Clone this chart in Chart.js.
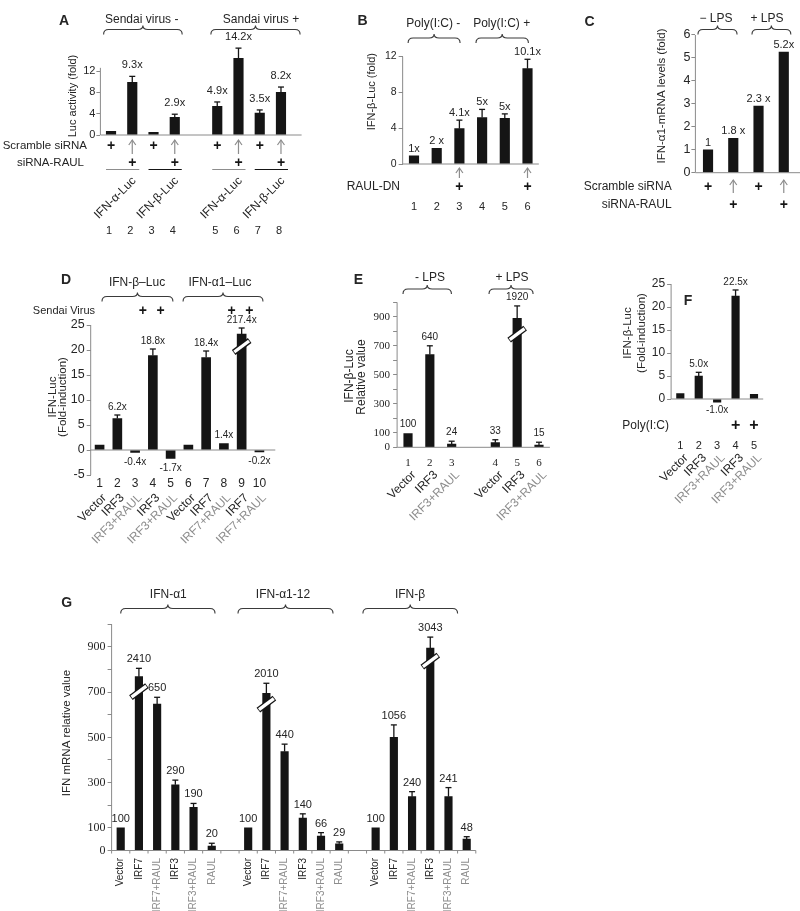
<!DOCTYPE html>
<html>
<head>
<meta charset="utf-8">
<title>RAUL / IFN reporter panels</title>
<script src="https://cdn.jsdelivr.net/npm/chart.js@4.4.1/dist/chart.umd.min.js"></script>
<style>
  html, body { margin: 0; padding: 0; background: #fff; }
  #page { position: relative; width: 800px; height: 911px; overflow: hidden; background: #fff; }
  #page canvas { position: absolute; left: 0; top: 0; }
</style>
</head>
<body>
<div id="page"></div>
<script>
// ---- A : Sendai virus, scramble vs RAUL siRNA ----
const aLanes = ['1', '2', '3', '4', '', '5', '6', '7', '8'];
const aValues = [0.7, 9.9, 0.5, 3.3, null, 5.4, 14.4, 4.1, 8.0];
const aErrors = [null, 11.0, null, 3.9, null, 6.2, 16.3, 4.7, 9.0];
const aFold = ['', '9.3x', '', '2.9x', '', '4.9x', '14.2x', '3.5x', '8.2x'];
const aScramble = ['+', '^', '+', '^', '', '+', '^', '+', '^'];
const aRaul = ['', '+', '', '+', '', '', '+', '', '+'];
const aPairs = [[0, 1], [2, 3], [5, 6], [7, 8]];
const aReporters = ['IFN-α-Luc', 'IFN-β-Luc', 'IFN-α-Luc', 'IFN-β-Luc'];
const aYTicks = [0, 4, 8, 12];

// ---- B : Poly(I:C), RAUL-DN ----
const bLanes = ['1', '2', '3', '4', '5', '6'];
const bValues = [0.9, 1.75, 3.95, 5.2, 5.1, 10.65];
const bErrors = [null, null, 4.9, 6.1, 5.6, 11.7];
const bFold = ['1x', '2 x', '4.1x', '5x', '5x', '10.1x'];
const bRaulDN = ['', '', '+', '', '', '+'];
const bYTicks = [0, 4, 8, 12];

// ---- C : LPS, IFN-a1 mRNA ----
const cLanes = ['1', '2', '3', '4'];
const cValues = [1.0, 1.5, 2.9, 5.25];
const cErrors = [null, null, null, null];
const cFold = ['1', '1.8 x', '2.3 x', '5.2x'];
const cScramble = ['+', '^', '+', '^'];
const cRaul = ['', '+', '', '+'];
const cYTicks = [0, 1, 2, 3, 4, 5, 6];

// ---- D : IFN-b / IFN-a1 luciferase ----
const dLanes = ['1', '2', '3', '4', '5', '6', '7', '8', '9', '10'];
const dNames = ['Vector', 'IRF3', 'IRF3+RAUL', 'IRF3', 'IRF3+RAUL', 'Vector', 'IRF7', 'IRF7+RAUL', 'IRF7', 'IRF7+RAUL'];
const dValues = [1.0, 6.3, -0.5, 18.9, -1.7, 1.0, 18.5, 1.3, 23.2, -0.4];
const dErrors = [null, 7.0, null, 20.2, null, null, 19.8, null, 24.4, null];
const dFold = ['', '6.2x', '-0.4x', '18.8x', '-1.7x', '', '18.4x', '1.4x', '217.4x', '-0.2x'];
const dSendai = ['', '', '', '+', '+', '', '', '', '+', '+'];
const dYTicks = [-5, 0, 5, 10, 15, 20, 25];

// ---- E : LPS, IFN-b-Luc relative value ----
const eLanes = ['1', '2', '3', '', '4', '5', '6'];
const eNames = ['Vector', 'IRF3', 'IRF3+RAUL', '', 'Vector', 'IRF3', 'IRF3+RAUL'];
const eValues = [95, 640, 22, null, 32, 890, 15];
const eErrors = [null, 700, 42, null, 52, 975, 35];
const eFold = ['100', '640', '24', '', '33', '1920', '15'];
const eYTicks = [0, 100, 200, 300, 400, 500, 600, 700, 800, 900, 1000];
const eYLabels = [0, 100, 300, 500, 700, 900];

// ---- F : Poly(I:C), IFN-b-Luc fold ----
const fLanes = ['1', '2', '3', '4', '5'];
const fNames = ['Vector', 'IRF3', 'IRF3+RAUL', 'IRF3', 'IRF3+RAUL'];
const fValues = [1.2, 5.0, -0.7, 22.4, 1.0];
const fErrors = [null, 5.8, null, 23.7, null];
const fFold = ['', '5.0x', '-1.0x', '22.5x', ''];
const fPoly = ['', '', '', '+', '+'];
const fYTicks = [0, 5, 10, 15, 20, 25];

// ---- G : IFN mRNA relative value ----
const gNames = ['Vector', 'IRF7', 'IRF7+RAUL', 'IRF3', 'IRF3+RAUL', 'RAUL', '',
                'Vector', 'IRF7', 'IRF7+RAUL', 'IRF3', 'IRF3+RAUL', 'RAUL', '',
                'Vector', 'IRF7', 'IRF7+RAUL', 'IRF3', 'IRF3+RAUL', 'RAUL'];
const gValues = [100, 768, 647, 290, 191, 20, null,
                 100, 695, 437, 143, 64, 30, null,
                 100, 500, 238, 894, 238, 50];
const gErrors = [null, 805, 677, 311, 208, 32, null,
                 null, 739, 470, 162, 79, 38, null,
                 null, 555, 260, 943, 278, 61];
const gFold = ['100', '2410', '650', '290', '190', '20', '',
               '100', '2010', '440', '140', '66', '29', '',
               '100', '1056', '240', '3043', '241', '48'];
const gGenes = ['IFN-α1', 'IFN-α1-12', 'IFN-β'];
const gYTicks = [0, 100, 200, 300, 400, 500, 600, 700, 800, 900, 1000];
const gYLabels = [0, 100, 300, 500, 700, 900];

const SANS = '"Liberation Sans", Arial, Helvetica, sans-serif';
const SERIF = '"Liberation Serif", "Times New Roman", serif';
const INK = '#151515', TXT = '#252525', GREY = '#8d8d8d', AXIS = '#8a8a8a';
const LETTER = 'bold 14px ' + SANS;
const f = (size, family) => size + 'px ' + (family || SANS);
const page = document.getElementById('page');

function seg(ctx, x1, y1, x2, y2) {
  ctx.beginPath(); ctx.moveTo(x1, y1); ctx.lineTo(x2, y2); ctx.stroke();
}

function write(ctx, s, x, y, font, align, color, rot) {
  ctx.save();
  ctx.translate(x, y);
  if (rot) ctx.rotate(rot);
  ctx.font = font; ctx.fillStyle = color || TXT;
  ctx.textAlign = align || 'center'; ctx.textBaseline = 'middle';
  ctx.fillText(s, 0, 0);
  ctx.restore();
}

function brace(ctx, x1, x2, y) {
  const h = 5, m = (x1 + x2) / 2;
  ctx.save();
  ctx.strokeStyle = '#3a3a3a'; ctx.lineWidth = 1.1;
  ctx.beginPath();
  ctx.moveTo(x1, y + h);
  ctx.quadraticCurveTo(x1, y, x1 + h, y);
  ctx.lineTo(m - h, y);
  ctx.quadraticCurveTo(m, y, m, y - 4);
  ctx.quadraticCurveTo(m, y, m + h, y);
  ctx.lineTo(x2 - h, y);
  ctx.quadraticCurveTo(x2, y, x2, y + h);
  ctx.stroke();
  ctx.restore();
}

function arrow(ctx, x, y1, y2) {
  ctx.save();
  ctx.strokeStyle = GREY; ctx.lineWidth = 1.2;
  seg(ctx, x, y1, x, y2);
  ctx.beginPath(); ctx.moveTo(x - 3.5, y1 + 5); ctx.lineTo(x, y1); ctx.lineTo(x + 3.5, y1 + 5); ctx.stroke();
  ctx.restore();
}

function plus(ctx, x, y) {
  write(ctx, '+', x, y, 'bold 14px ' + SANS, 'center', INK);
}

function slash(ctx, x, y) {
  ctx.save();
  ctx.lineCap = 'butt';
  ctx.strokeStyle = INK; ctx.lineWidth = 6;
  seg(ctx, x - 8, y + 6, x + 8, y - 6);
  ctx.strokeStyle = '#fff'; ctx.lineWidth = 3.4;
  seg(ctx, x - 7.4, y + 5.5, x + 7.4, y - 5.5);
  ctx.restore();
}

function slanted(ctx, names, X, dx, y, size) {
  names.forEach((s, i) => {
    if (!s) return;
    write(ctx, s, X(i) + dx, y, f(size), 'right', s.includes('RAUL') ? GREY : TXT, -Math.PI / 4);
  });
}

function panel(o) {
  const canvas = document.createElement('canvas');
  canvas.width = 800; canvas.height = 911;
  page.appendChild(canvas);
  const YW = 40;
  const marks = {
    id: 'marks',
    afterDraw(chart) {
      const ctx = chart.ctx, ca = chart.chartArea;
      const X = i => chart.scales.x.getPixelForValue(i);
      const Y = v => chart.scales.y.getPixelForValue(v);
      ctx.save();
      ctx.strokeStyle = AXIS; ctx.lineWidth = 1;
      seg(ctx, ca.left, Y(o.axisFrom), ca.left, Y(o.axisTo));
      seg(ctx, ca.left, Y(0), ca.right + (o.baseExt || 0), Y(0));
      ctx.strokeStyle = INK; ctx.lineWidth = 1.3;
      o.errors.forEach((e, i) => {
        if (e == null) return;
        const x = X(i);
        seg(ctx, x, Y(o.values[i]), x, Y(e));
        seg(ctx, x - 3, Y(e), x + 3, Y(e));
      });
      (o.breaks || []).forEach(b => slash(ctx, X(b.i), Y(b.v)));
      o.fold.forEach((s, i) => {
        if (!s) return;
        const v = o.values[i];
        const top = Math.max(v, o.errors[i] == null ? v : o.errors[i]);
        const y = v < 0 ? Y(v) + o.negGap : Y(top) - o.gap;
        write(ctx, s, X(i), y, o.foldFont);
      });
      o.extra(ctx, X, Y, ca);
      ctx.restore();
    }
  };
  return new Chart(canvas, {
    type: 'bar',
    data: { labels: o.lanes, datasets: [{ data: o.values, backgroundColor: INK, barThickness: o.barW }] },
    options: {
      responsive: false, animation: false, events: [],
      layout: { padding: { left: o.box[0] - YW, top: o.box[1], right: 800 - o.box[2], bottom: 911 - o.box[3] } },
      plugins: { legend: { display: false }, tooltip: { enabled: false } },
      scales: {
        x: { display: false, offset: true },
        y: {
          min: o.yMin, max: o.yMax,
          afterFit: s => { s.width = YW; },
          afterBuildTicks: s => { s.ticks = o.yTicks.map(v => ({ value: v })); },
          border: { display: false },
          grid: { drawOnChartArea: false, drawTicks: true, tickLength: 4, color: AXIS },
          ticks: {
            autoSkip: false, padding: o.tickPad, color: TXT, font: o.tickFont,
            callback: v => (o.yLabels || o.yTicks).includes(v) ? String(v) : ''
          }
        }
      }
    },
    plugins: [marks]
  });
}

// ---------- A ----------
panel({
  box: [100.4, 44.4, 291.6, 135], yMin: 0, yMax: 17, axisFrom: 0, axisTo: 12.6, baseExt: 10,
  lanes: aLanes, values: aValues, errors: aErrors, fold: aFold, yTicks: aYTicks,
  tickFont: { family: SANS, size: 11 }, tickPad: 1, barW: 9.5, gap: 11, negGap: 9, foldFont: f(11),
  extra(ctx, X) {
    write(ctx, 'A', 64, 21.5, LETTER);
    write(ctx, 'Sendai virus -', 141.7, 19.3, f(12));
    brace(ctx, X(-0.35), X(3.35), 29.5);
    write(ctx, 'Sandai virus +', 261, 19.3, f(12));
    brace(ctx, X(4.7), X(8.9), 29.5);
    write(ctx, 'Luc activity (fold)', 73.3, 96, f(11), 'center', TXT, -Math.PI / 2);
    write(ctx, 'Scramble siRNA', 87, 145.7, f(11.5), 'right');
    write(ctx, 'siRNA-RAUL', 84, 163.3, f(11.5), 'right');
    aScramble.forEach((m, i) => {
      if (m === '+') plus(ctx, X(i), 145.7);
      if (m === '^') arrow(ctx, X(i), 140, 154);
    });
    aRaul.forEach((m, i) => { if (m) plus(ctx, X(i), 163.3); });
    aPairs.forEach(([p, q], k) => {
      ctx.strokeStyle = k % 2 ? INK : GREY; ctx.lineWidth = 1.2;
      seg(ctx, X(p) - 5, 169.5, X(q) + 7, 169.5);
      write(ctx, aReporters[k], X(q) + 2, 179, f(12), 'right', TXT, -Math.PI / 4);
    });
    aLanes.forEach((s, i) => write(ctx, s, X(i) - 2, 230.7, f(11)));
  }
});

// ---------- B ----------
panel({
  box: [402.65, 47.65, 538.85, 164], yMin: 0, yMax: 13, axisFrom: 0, axisTo: 12, baseExt: 0,
  lanes: bLanes, values: bValues, errors: bErrors, fold: bFold, yTicks: bYTicks,
  tickFont: { family: SANS, size: 10.5 }, tickPad: 2, barW: 9.5, gap: 7, negGap: 9, foldFont: f(11),
  extra(ctx, X) {
    write(ctx, 'B', 362.5, 21.5, LETTER);
    write(ctx, 'Poly(I:C) -', 433.3, 24, f(12));
    brace(ctx, X(-0.26), X(2.03), 38);
    write(ctx, 'Poly(I:C) +', 501.7, 24, f(12));
    brace(ctx, X(2.73), X(5.04), 38);
    write(ctx, 'IFN-β-Luc (fold)', 372, 91.7, f(11), 'center', TXT, -Math.PI / 2);
    write(ctx, 'RAUL-DN', 400, 187, f(12), 'right');
    bRaulDN.forEach((m, i) => {
      if (!m) return;
      arrow(ctx, X(i), 168, 178);
      plus(ctx, X(i), 187);
    });
    bLanes.forEach((s, i) => write(ctx, s, X(i), 206.7, f(11)));
  }
});

// ---------- C ----------
panel({
  box: [695.4, 30.4, 796.4, 172.7], yMin: 0, yMax: 6.2, axisFrom: 0, axisTo: 6, baseExt: 4,
  lanes: cLanes, values: cValues, errors: cErrors, fold: cFold, yTicks: cYTicks,
  tickFont: { family: SANS, size: 12.5 }, tickPad: 1, barW: 9.5, gap: 7, negGap: 9, foldFont: f(11),
  extra(ctx, X) {
    write(ctx, 'C', 589.5, 21.7, LETTER);
    write(ctx, '− LPS', 716, 19, f(12));
    brace(ctx, X(-0.4), X(1.15), 29.5);
    write(ctx, '+ LPS', 767, 19, f(12));
    brace(ctx, X(1.74), X(3.28), 29.5);
    write(ctx, 'IFN-α1-mRNA levels (fold)', 661.7, 96, f(11.5), 'center', TXT, -Math.PI / 2);
    write(ctx, 'Scramble siRNA', 671.7, 186.7, f(12), 'right');
    write(ctx, 'siRNA-RAUL', 671.7, 205, f(12), 'right');
    cScramble.forEach((m, i) => {
      if (m === '+') plus(ctx, X(i), 186.7);
      if (m === '^') arrow(ctx, X(i), 180, 193);
    });
    cRaul.forEach((m, i) => { if (m) plus(ctx, X(i), 205); });
  }
});

// ---------- D ----------
panel({
  box: [90.7, 325, 268.3, 475], yMin: -5, yMax: 25, axisFrom: -5, axisTo: 25, baseExt: 7,
  lanes: dLanes, values: dValues, errors: dErrors, fold: dFold, yTicks: dYTicks,
  tickFont: { family: SANS, size: 12.5 }, tickPad: 2, barW: 9, gap: 8, negGap: 9.5, foldFont: f(10),
  breaks: [{ i: 8, v: 20.7 }],
  extra(ctx, X) {
    write(ctx, 'D', 66, 280, LETTER);
    write(ctx, 'IFN-β–Luc', 137, 283, f(12));
    brace(ctx, X(0.135), X(4.13), 296.5);
    write(ctx, 'IFN-α1–Luc', 220, 283, f(12));
    brace(ctx, X(4.7), X(9.2), 296.5);
    write(ctx, 'Sendai Virus', 95, 311, f(11), 'right');
    dSendai.forEach((m, i) => { if (m) plus(ctx, X(i) - 10, 311); });
    write(ctx, 'IFN-Luc', 53.3, 397, f(11.5), 'center', TXT, -Math.PI / 2);
    write(ctx, '(Fold-induction)', 63, 397, f(11.5), 'center', TXT, -Math.PI / 2);
    dLanes.forEach((s, i) => write(ctx, s, X(i), 484, f(12)));
    slanted(ctx, dNames, X, 5, 496, 12);
  }
});

// ---------- E ----------
panel({
  box: [397.1, 302.3, 549.9, 447.3], yMin: 0, yMax: 1000, axisFrom: 0, axisTo: 1000, baseExt: 0,
  lanes: eLanes, values: eValues, errors: eErrors, fold: eFold, yTicks: eYTicks, yLabels: eYLabels,
  tickFont: { family: SERIF, size: 11 }, tickPad: 3, barW: 8.5, gap: 9, negGap: 9, foldFont: f(10),
  breaks: [{ i: 5, v: 780 }],
  extra(ctx, X) {
    write(ctx, 'E', 358.5, 280, LETTER);
    write(ctx, '- LPS', 430, 278, f(12));
    brace(ctx, X(-0.23), X(1.99), 289);
    write(ctx, '+ LPS', 512, 278, f(12));
    brace(ctx, X(3.71), X(5.73), 289);
    write(ctx, 'IFN-β-Luc', 350, 376, f(12), 'center', TXT, -Math.PI / 2);
    write(ctx, 'Relative value', 362, 377, f(12), 'center', TXT, -Math.PI / 2);
    eLanes.forEach((s, i) => write(ctx, s, X(i), 462.7, f(11, SERIF)));
    slanted(ctx, eNames, X, 6, 473, 12);
  }
});

// ---------- F ----------
panel({
  box: [671.1, 284, 763.2, 403.6], yMin: -1, yMax: 25, axisFrom: 0, axisTo: 25, baseExt: 0,
  lanes: fLanes, values: fValues, errors: fErrors, fold: fFold, yTicks: fYTicks,
  tickFont: { family: SANS, size: 12 }, tickPad: 2, barW: 7.5, gap: 8, negGap: 8, foldFont: f(10),
  extra(ctx, X) {
    write(ctx, 'F', 688, 301, LETTER);
    write(ctx, 'IFN-β-Luc', 628, 333, f(11.5), 'center', TXT, -Math.PI / 2);
    write(ctx, '(Fold-induction)', 641.7, 333, f(11.5), 'center', TXT, -Math.PI / 2);
    write(ctx, 'Poly(I:C)', 669, 426, f(12), 'right');
    fPoly.forEach((m, i) => { if (m) write(ctx, '+', X(i), 426, 'bold 16px ' + SANS, 'center', INK); });
    fLanes.forEach((s, i) => write(ctx, s, X(i), 445.7, f(11)));
    slanted(ctx, fNames, X, 6, 456, 12);
  }
});

// ---------- G ----------
panel({
  box: [111.6, 624.2, 475.8, 850.5], yMin: 0, yMax: 1000, axisFrom: 0, axisTo: 1000, baseExt: 0,
  lanes: gNames, values: gValues, errors: gErrors, fold: gFold, yTicks: gYTicks, yLabels: gYLabels,
  tickFont: { family: SERIF, size: 12 }, tickPad: 2, barW: 7.5, gap: 9, negGap: 9, foldFont: f(11),
  breaks: [{ i: 1, v: 702 }, { i: 8, v: 647 }, { i: 17, v: 837 }],
  extra(ctx, X, Y) {
    write(ctx, 'G', 66.7, 602.7, LETTER);
    write(ctx, gGenes[0], 168.3, 595, f(12));
    brace(ctx, X(0), X(5.18), 608.5);
    write(ctx, gGenes[1], 283, 595, f(12));
    brace(ctx, X(6.44), X(11.66), 608.5);
    write(ctx, gGenes[2], 410, 595, f(12));
    brace(ctx, X(13.3), X(18.5), 608.5);
    write(ctx, 'IFN mRNA relative value', 66.7, 733, f(11.5), 'center', TXT, -Math.PI / 2);
    ctx.strokeStyle = AXIS; ctx.lineWidth = 1;
    for (let k = 0; k <= gNames.length; k++) seg(ctx, X(k - 0.5), Y(0), X(k - 0.5), Y(0) + 3);
    gNames.forEach((s, i) => {
      if (!s) return;
      const grey = s.includes('RAUL');
      write(ctx, s, X(i), 858, f(10), 'right', grey ? GREY : TXT, -Math.PI / 2);
    });
  }
});
</script>
</body>
</html>
